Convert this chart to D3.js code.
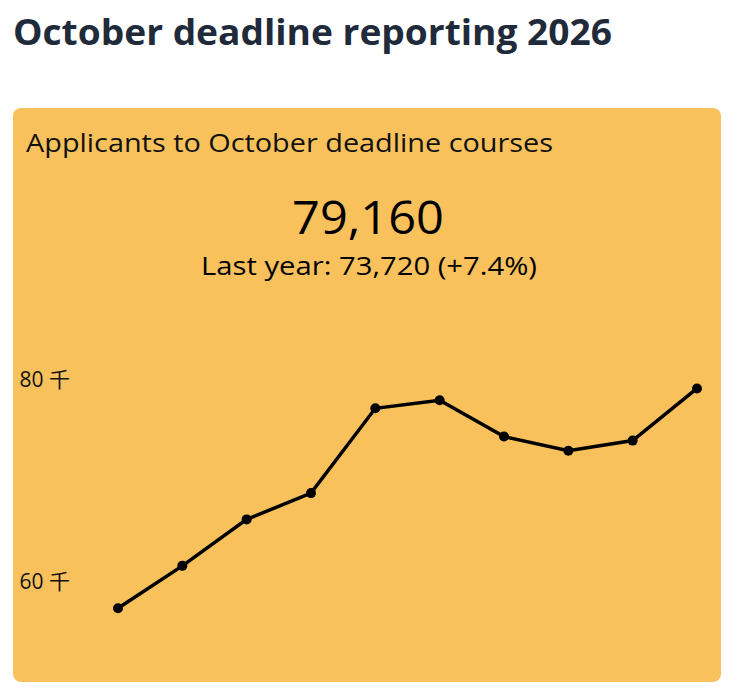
<!DOCTYPE html>
<html><head><meta charset="utf-8">
<script src="https://cdn.jsdelivr.net/npm/d3@7"></script>
<style>
body{margin:0;background:#fff;font-family:"Open Sans","Noto Sans",sans-serif;}
</style></head>
<body>
<svg id="chart" width="732" height="691"></svg>
<script>
// applicants (thousands) per reporting point
const points = [1, 2, 3, 4, 5, 6, 7, 8, 9, 10];
const applicants = [57.4, 61.6, 66.2, 68.8, 77.2, 78.0, 74.4, 73.0, 74.0, 79.16];
const yTicks = [60, 80];
const headline = "79,160";
const lastYear = "Last year: 73,720 (+7.4%)";

const svg = d3.select("#chart");

svg.append("text").attr("x", 13).attr("y", 45)
  .attr("font-size", 35).attr("font-weight", 700).attr("fill", "#1f2a3a")
  .attr("textLength", 599).attr("lengthAdjust", "spacingAndGlyphs")
  .text("October deadline reporting 2026");

// card background
svg.append("rect").attr("x", 13).attr("y", 108).attr("width", 708).attr("height", 574)
  .attr("rx", 8).attr("fill", "#f8c15c");

svg.append("text").attr("x", 26).attr("y", 152).attr("font-size", 26).attr("fill", "#111")
  .attr("textLength", 527).attr("lengthAdjust", "spacingAndGlyphs")
  .text("Applicants to October deadline courses");
svg.append("text").attr("x", 368).attr("y", 234).attr("text-anchor", "middle")
  .attr("font-size", 45).attr("fill", "#000")
  .attr("textLength", 152).attr("lengthAdjust", "spacingAndGlyphs").text(headline);
svg.append("text").attr("x", 369).attr("y", 275).attr("text-anchor", "middle")
  .attr("font-size", 26).attr("fill", "#000")
  .attr("textLength", 336).attr("lengthAdjust", "spacingAndGlyphs").text(lastYear);

const x = d3.scaleLinear().domain([1, 10]).range([118, 697]);
const y = d3.scaleLinear().domain([60, 80]).range([582, 380]);

const yAxis = svg.append("g").attr("transform", "translate(70,0)")
  .call(d3.axisLeft(y).tickValues(yTicks).tickSize(0).tickPadding(0).tickFormat(d => d + " 千"));
yAxis.select(".domain").remove();
yAxis.selectAll("text").attr("font-size", 21).attr("fill", "#111")
  .attr("font-family", "'Open Sans','Noto Sans CJK JP',sans-serif");

svg.append("path").datum(applicants)
  .attr("fill", "none").attr("stroke", "#000").attr("stroke-width", 3.5)
  .attr("d", d3.line().x((d, i) => x(points[i])).y(d => y(d)));

svg.selectAll("circle.pt").data(applicants).join("circle")
  .attr("class", "pt").attr("cx", (d, i) => x(points[i])).attr("cy", d => y(d))
  .attr("r", 5).attr("fill", "#000");
</script>
</body></html>
